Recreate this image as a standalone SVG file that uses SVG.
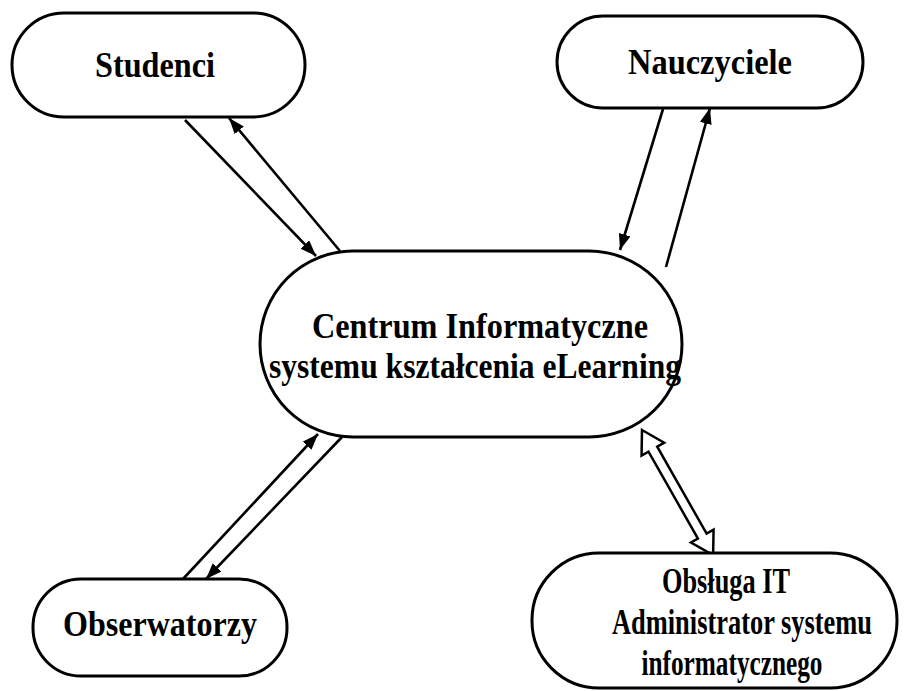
<svg xmlns="http://www.w3.org/2000/svg" width="904" height="691" viewBox="0 0 904 691">
<style>
.node{fill:#fff;stroke:#000;stroke-width:3}
.lbl{font-family:"Liberation Serif","Times New Roman",serif;font-weight:bold;font-size:35px;fill:#000;text-anchor:middle}
.conn{stroke:#000;stroke-width:2.6;fill:none;marker-end:url(#ah)}
.hollow{fill:#fff;stroke:#000;stroke-width:2.5;stroke-linejoin:miter}
</style>
<defs>
<marker id="ah" markerUnits="userSpaceOnUse" markerWidth="18" markerHeight="14" refX="16" refY="6" orient="auto">
<path d="M0,0 L16,6 L0,12 z" fill="#000"/>
</marker>
</defs>
<rect width="904" height="691" fill="#fff"/>
<g id="connectors">
<line class="conn" x1="185" y1="120" x2="316" y2="256"/>
<line class="conn" x1="340" y1="251" x2="229" y2="118"/>
<line class="conn" x1="663" y1="109" x2="620" y2="250"/>
<line class="conn" x1="666" y1="267" x2="710" y2="108"/>
<line class="conn" x1="183" y1="579" x2="318" y2="434"/>
<line class="conn" x1="342" y1="437" x2="206" y2="579"/>
<g transform="translate(642,430) rotate(60.4)">
<polygon class="hollow" points="0,0 22,-13 22,-5 122,-5 122,-13 144,0 122,13 122,5 22,5 22,13"/>
</g>
</g>
<g id="studenci">
<rect class="node" x="12" y="13" width="293" height="104" rx="52" ry="52"/>
<text class="lbl" x="155" y="77" textLength="120" lengthAdjust="spacingAndGlyphs">Studenci</text>
</g>
<g id="nauczyciele">
<rect class="node" x="557" y="16" width="306" height="92" rx="46" ry="46"/>
<text class="lbl" x="710" y="74" textLength="164" lengthAdjust="spacingAndGlyphs">Nauczyciele</text>
</g>
<g id="centrum">
<rect class="node" x="260" y="251" width="422" height="186" rx="93" ry="93"/>
<text class="lbl" x="480" y="338" textLength="336" lengthAdjust="spacingAndGlyphs">Centrum Informatyczne</text>
<text class="lbl" x="475" y="378" textLength="412" lengthAdjust="spacingAndGlyphs">systemu kształcenia eLearning</text>
</g>
<g id="obserwatorzy">
<rect class="node" x="33" y="579" width="254" height="97" rx="48" ry="48"/>
<text class="lbl" x="160" y="636" textLength="194" lengthAdjust="spacingAndGlyphs">Obserwatorzy</text>
</g>
<g id="obsluga">
<rect class="node" x="532" y="553" width="365" height="135" rx="67" ry="67"/>
<text class="lbl" x="726" y="593" textLength="128" lengthAdjust="spacingAndGlyphs">Obsługa IT</text>
<text class="lbl" x="742" y="634" textLength="260" lengthAdjust="spacingAndGlyphs">Administrator systemu</text>
<text class="lbl" x="732" y="675" textLength="181" lengthAdjust="spacingAndGlyphs">informatycznego</text>
</g>
</svg>
